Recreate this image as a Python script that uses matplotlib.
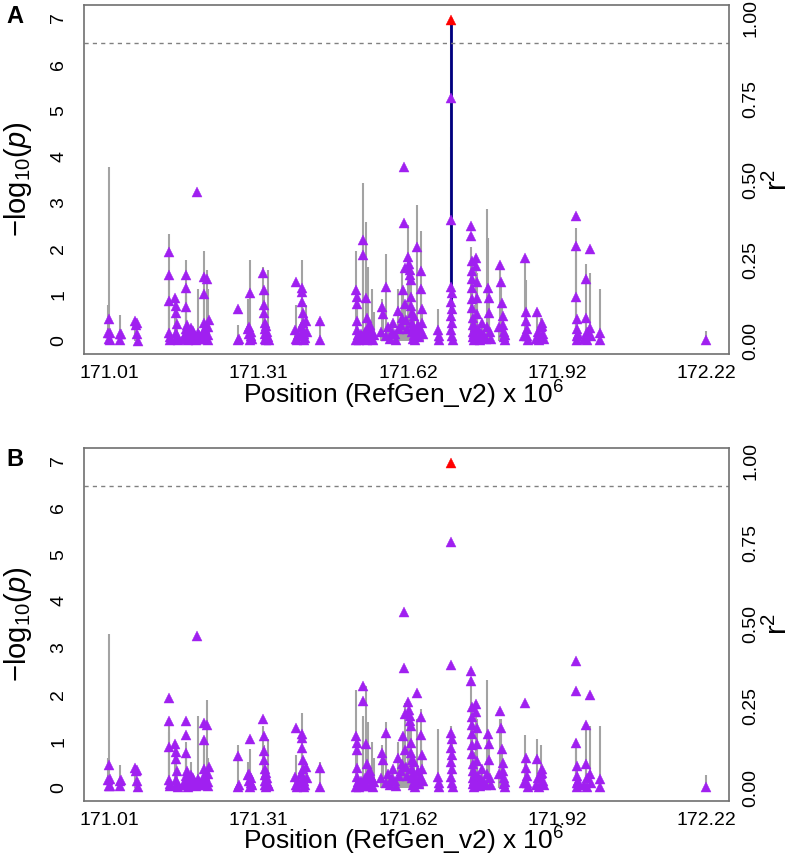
import numpy as np
import matplotlib.pyplot as plt

plt.rcParams['font.family'] = ['Liberation Sans', 'DejaVu Sans']
plt.rcParams['mathtext.fontset'] = 'custom'
plt.rcParams['mathtext.rm'] = 'Liberation Sans'
plt.rcParams['mathtext.it'] = 'Liberation Sans:italic'

# SNP positions (Mb), one line per cluster
pos = [
    171.008, 171.010, 171.010, 171.011, 171.012,
    171.031, 171.032, 171.033,
    171.062, 171.064, 171.066, 171.067, 171.068,
    171.130, 171.132, 171.132, 171.131, 171.133, 171.134, 171.144, 171.146, 171.146, 171.147, 171.145, 171.148, 171.147, 171.150,
    171.160, 171.163, 171.165, 171.166, 171.166, 171.167, 171.165, 171.168, 171.170, 171.172, 171.175, 171.178, 171.180, 171.183, 171.186, 171.188, 171.190, 171.192, 171.195,
    171.199, 171.201, 171.201, 171.202, 171.203, 171.204, 171.206, 171.208, 171.209, 171.210, 171.211, 171.212,
    171.270, 171.271, 171.272,
    171.292, 171.294, 171.296, 171.296, 171.297, 171.298, 171.300, 171.293,
    171.322, 171.324, 171.324, 171.324, 171.325, 171.325, 171.326, 171.326, 171.327, 171.328, 171.329, 171.330, 171.332, 171.333,
    171.386, 171.388, 171.389, 171.390, 171.392, 171.398, 171.400, 171.401, 171.401, 171.402, 171.402, 171.403, 171.403, 171.404, 171.405, 171.406, 171.409, 171.410,
    171.436, 171.437,
    171.509, 171.510, 171.511, 171.511, 171.512, 171.512, 171.513, 171.513, 171.515, 171.518, 171.520, 171.523, 171.523, 171.524, 171.526, 171.528, 171.531, 171.532, 171.533, 171.535, 171.537, 171.539, 171.541, 171.542, 171.544, 171.546,
    171.560, 171.563, 171.565, 171.571, 171.571, 171.575, 171.578, 171.582, 171.585, 171.588, 171.591, 171.594, 171.596, 171.600, 171.602, 171.604,
    171.606, 171.608, 171.610, 171.610, 171.612, 171.614, 171.616, 171.618, 171.620, 171.620, 171.622, 171.622, 171.622, 171.623, 171.623, 171.624,
    171.625, 171.626, 171.627, 171.628, 171.630, 171.632, 171.634, 171.636, 171.638, 171.640, 171.642, 171.642, 171.643, 171.644, 171.645,
    171.675, 171.677, 171.678,
    171.703, 171.703, 171.703, 171.702, 171.704, 171.703, 171.704, 171.702, 171.704, 171.703, 171.705, 171.706,
    171.742, 171.743, 171.744, 171.744, 171.744, 171.745, 171.745, 171.745, 171.746, 171.746, 171.747, 171.747, 171.748, 171.749, 171.750, 171.752, 171.753,
    171.754, 171.754, 171.755, 171.756, 171.758, 171.760, 171.763, 171.766, 171.770, 171.774, 171.776, 171.778, 171.779, 171.780, 171.782, 171.784,
    171.800, 171.802, 171.804, 171.806, 171.808, 171.808, 171.809, 171.810, 171.811, 171.812,
    171.850, 171.852, 171.854, 171.855, 171.856, 171.857, 171.858, 171.875, 171.877, 171.878, 171.880, 171.884, 171.886, 171.887, 171.888, 171.890,
    171.955, 171.956, 171.956, 171.957, 171.957, 171.958, 171.958, 171.959, 171.972, 171.975, 171.976, 171.977, 171.978, 171.983, 171.984, 171.985, 172.003, 172.004,
    172.218,
]

# -log10(p), same SNPs in both panels
logp = [
    0.17, 0.48, 0.04, 0.18, 0.03,
    0.15, 0.03, 0.16,
    0.43, 0.35, 0.38, 0.15, 0.01,
    1.93, 1.43, 0.87, 0.17, 0.03, 0.08, 0.93, 0.76, 0.61, 0.37, 0.17, 0.05, 0.10, 0.02,
    0.05, 0.12, 1.43, 1.14, 0.74, 0.35, 0.25, 0.20, 0.02, 0.15, 0.28, 0.05, 0.22, 0.10, 0.03, 3.24, 0.18, 0.12, 0.05,
    0.20, 1.39, 1.02, 0.40, 0.25, 0.05, 0.15, 1.35, 0.30, 0.12, 0.03, 0.45,
    0.69, 0.02, 0.05,
    0.27, 0.15, 1.04, 0.02, 0.10, 0.20, 0.05, 0.30,
    1.48, 1.10, 0.78, 0.60, 0.40, 0.27, 0.15, 0.05, 0.02, 0.32, 0.10, 0.20, 0.08, 0.03,
    0.23, 0.05, 1.27, 0.02, 0.12, 0.30, 1.16, 1.07, 0.85, 0.60, 0.40, 0.23, 0.10, 0.02, 0.15, 0.06, 0.44, 0.20,
    0.43, 0.02,
    0.02, 1.10, 0.95, 0.80, 0.43, 0.23, 0.05, 0.12, 0.02, 0.08, 0.15, 2.19, 1.86, 0.04, 0.10, 0.20, 0.93, 0.50, 0.03, 0.30, 0.18, 0.35, 0.07, 0.20, 0.02, 0.12,
    0.20, 0.74, 0.59, 1.17, 0.10, 0.30, 0.05, 0.20, 0.40, 0.15, 0.03, 0.64, 0.25, 0.35, 0.50, 1.10,
    3.77, 2.56, 1.59, 0.80, 0.45, 0.25, 1.83, 1.66, 1.54, 1.43, 1.32, 0.95, 0.75, 0.60, 0.40, 0.20,
    0.05, 0.30, 0.12, 0.55, 0.02, 0.18, 2.04, 0.35, 0.08, 0.25, 1.52, 1.13, 0.70, 0.40, 0.15,
    0.23, 0.02, 0.10,
    6.95, 5.27, 2.62, 1.17, 1.05, 0.85, 0.70, 0.55, 0.40, 0.23, 0.10, 0.02,
    2.50, 2.28, 1.74, 1.52, 1.34, 1.16, 0.91, 0.72, 0.50, 0.35, 0.20, 0.08, 0.02, 0.15, 0.30, 1.80, 1.62,
    1.27, 0.94, 0.58, 0.25, 0.10, 0.03, 0.18, 0.40, 0.12, 0.05, 0.30, 1.16, 0.94, 0.60, 0.20, 0.05,
    0.30, 1.65, 1.28, 0.83, 0.54, 0.35, 0.20, 0.08, 0.02, 0.12,
    0.10, 1.81, 0.63, 0.43, 0.25, 0.10, 0.02, 0.05, 0.62, 0.20, 0.02, 0.30, 0.40, 0.32, 0.15, 0.05,
    2.72, 2.07, 0.96, 0.47, 0.25, 0.10, 0.02, 0.15, 0.05, 1.34, 0.50, 0.20, 0.02, 1.99, 0.29, 0.10, 0.18, 0.02,
    0.02,
]

# r2 with the lead SNP (panel A)
r2_a = [
    0.11, 0.54, 0.02, 0.02, 0.01,
    0.08, 0.01, 0.02,
    0.06, 0.05, 0.03, 0.02, 0.01,
    0.33, 0.20, 0.13, 0.03, 0.01, 0.02, 0.14, 0.11, 0.09, 0.05, 0.03, 0.01, 0.02, 0.01,
    0.01, 0.02, 0.25, 0.17, 0.14, 0.06, 0.04, 0.03, 0.01, 0.02, 0.04, 0.01, 0.03, 0.02, 0.01, 0.02, 0.16, 0.02, 0.01,
    0.03, 0.28, 0.16, 0.06, 0.04, 0.01, 0.02, 0.22, 0.16, 0.03, 0.01, 0.07,
    0.05, 0.01, 0.01,
    0.13, 0.04, 0.25, 0.01, 0.02, 0.03, 0.01, 0.04,
    0.23, 0.16, 0.12, 0.09, 0.06, 0.04, 0.03, 0.01, 0.01, 0.05, 0.02, 0.03, 0.22, 0.01,
    0.03, 0.01, 0.11, 0.01, 0.02, 0.04, 0.25, 0.16, 0.13, 0.09, 0.06, 0.03, 0.02, 0.01, 0.02, 0.01, 0.11, 0.03,
    0.07, 0.01,
    0.01, 0.28, 0.14, 0.12, 0.06, 0.03, 0.01, 0.02, 0.01, 0.02, 0.03, 0.49, 0.30, 0.01, 0.02, 0.03, 0.37, 0.19, 0.01, 0.23, 0.05, 0.06, 0.02, 0.16, 0.01, 0.09,
    0.03, 0.13, 0.09, 0.27, 0.02, 0.05, 0.01, 0.03, 0.06, 0.03, 0.01, 0.16, 0.04, 0.05, 0.22, 0.16,
    0.02, 0.05, 0.08, 0.12, 0.07, 0.04, 0.36, 0.25, 0.22, 0.20, 0.19, 0.14, 0.11, 0.09, 0.06, 0.03,
    0.01, 0.05, 0.02, 0.08, 0.01, 0.03, 0.42, 0.05, 0.01, 0.04, 0.34, 0.16, 0.10, 0.06, 0.02,
    0.10, 0.01, 0.02,
    1.00, 0.60, 0.30, 0.17, 0.15, 0.12, 0.10, 0.08, 0.06, 0.03, 0.02, 0.01,
    0.07, 0.29, 0.25, 0.21, 0.19, 0.17, 0.13, 0.11, 0.07, 0.05, 0.03, 0.01, 0.01, 0.02, 0.11, 0.26, 0.23,
    0.21, 0.14, 0.08, 0.04, 0.02, 0.01, 0.03, 0.06, 0.02, 0.01, 0.41, 0.32, 0.17, 0.09, 0.03, 0.01,
    0.05, 0.24, 0.17, 0.12, 0.08, 0.05, 0.03, 0.01, 0.01, 0.02,
    0.02, 0.26, 0.19, 0.06, 0.04, 0.02, 0.01, 0.01, 0.10, 0.03, 0.01, 0.07, 0.06, 0.05, 0.02, 0.01,
    0.06, 0.35, 0.28, 0.07, 0.04, 0.02, 0.01, 0.02, 0.01, 0.24, 0.07, 0.03, 0.01, 0.21, 0.04, 0.02, 0.16, 0.01,
    0.03,
]

# r2 after conditioning (panel B)
r2_b = [
    0.09, 0.47, 0.02, 0.02, 0.01,
    0.07, 0.01, 0.02,
    0.04, 0.04, 0.03, 0.02, 0.01,
    0.19, 0.17, 0.12, 0.03, 0.01, 0.02, 0.12, 0.10, 0.08, 0.05, 0.03, 0.01, 0.02, 0.01,
    0.01, 0.02, 0.14, 0.12, 0.10, 0.06, 0.04, 0.03, 0.01, 0.03, 0.08, 0.01, 0.03, 0.02, 0.01, 0.02, 0.22, 0.02, 0.01,
    0.03, 0.14, 0.12, 0.06, 0.04, 0.01, 0.02, 0.27, 0.09, 0.03, 0.01, 0.07,
    0.13, 0.01, 0.01,
    0.08, 0.04, 0.12, 0.01, 0.02, 0.03, 0.01, 0.04,
    0.19, 0.13, 0.11, 0.08, 0.06, 0.04, 0.03, 0.01, 0.01, 0.05, 0.02, 0.03, 0.15, 0.01,
    0.03, 0.01, 0.10, 0.01, 0.02, 0.04, 0.23, 0.16, 0.13, 0.09, 0.06, 0.03, 0.02, 0.01, 0.02, 0.01, 0.08, 0.03,
    0.08, 0.01,
    0.01, 0.30, 0.14, 0.12, 0.06, 0.03, 0.01, 0.02, 0.01, 0.02, 0.03, 0.21, 0.22, 0.01, 0.02, 0.03, 0.31, 0.18, 0.01, 0.20, 0.05, 0.06, 0.02, 0.14, 0.01, 0.09,
    0.03, 0.13, 0.09, 0.20, 0.02, 0.05, 0.01, 0.03, 0.06, 0.03, 0.01, 0.14, 0.04, 0.05, 0.08, 0.16,
    0.02, 0.05, 0.26, 0.12, 0.07, 0.04, 0.20, 0.22, 0.21, 0.20, 0.19, 0.14, 0.11, 0.09, 0.06, 0.03,
    0.01, 0.05, 0.02, 0.08, 0.01, 0.03, 0.21, 0.05, 0.01, 0.04, 0.24, 0.16, 0.10, 0.06, 0.02,
    0.18, 0.01, 0.02,
    0.05, 0.10, 0.19, 0.17, 0.15, 0.12, 0.10, 0.08, 0.06, 0.03, 0.02, 0.01,
    0.07, 0.34, 0.25, 0.21, 0.19, 0.17, 0.13, 0.11, 0.07, 0.05, 0.03, 0.01, 0.01, 0.02, 0.11, 0.26, 0.23,
    0.21, 0.14, 0.08, 0.04, 0.02, 0.01, 0.03, 0.06, 0.02, 0.01, 0.33, 0.17, 0.17, 0.09, 0.03, 0.01,
    0.05, 0.21, 0.21, 0.12, 0.08, 0.05, 0.03, 0.01, 0.01, 0.02,
    0.02, 0.16, 0.09, 0.06, 0.04, 0.02, 0.01, 0.01, 0.15, 0.03, 0.01, 0.13, 0.06, 0.05, 0.02, 0.01,
    0.06, 0.15, 0.14, 0.07, 0.04, 0.02, 0.01, 0.02, 0.01, 0.18, 0.07, 0.03, 0.01, 0.19, 0.04, 0.02, 0.19, 0.01,
    0.04,
]

threshold = 6.47
xtick_pos = [171.01, 171.3125, 171.615, 171.9175, 172.22]
xtick_labels = ['171.01', '171.31', '171.62', '171.92', '172.22']
r2_ticks = [0.0, 0.25, 0.5, 0.75, 1.0]
r2_labels = ['0.00', '0.25', '0.50', '0.75', '1.00']

assert len(pos) == len(logp) == len(r2_a) == len(r2_b)
pos = np.array(pos)
logp = np.array(logp)
lead = int(np.argmax(logp))

purple = '#A020F0'
grey = '#A3A3A3'
frame = '#707070'

fig = plt.figure(figsize=(7.97, 8.57), dpi=100)
panels = [
    ('A', np.array(r2_a), True, [0.1055, 0.587, 0.809, 0.407], -0.141),
    ('B', np.array(r2_b), False, [0.1055, 0.0655, 0.809, 0.412], -0.139),
]

for letter, r2, highlight, rect, xlab_y in panels:
    ax = fig.add_axes(rect)
    ax2 = ax.twinx()
    ax.set_zorder(2)
    ax.patch.set_visible(False)

    # r2 bars on the right axis
    ax2.vlines(pos, 0, r2, color=grey, lw=1.5)
    if highlight:
        ax2.vlines(pos[lead], 0, r2[lead], color='#000080', lw=2)

    # -log10(p) triangles
    others = np.arange(len(pos)) != lead
    ax.plot(pos[others], logp[others], '^', color=purple, ms=6.5, mec=purple, mew=0.3)
    ax.plot(pos[lead], logp[lead], '^', color='red', ms=6.5, mec='red', mew=0.3)
    ax.axhline(threshold, color='#808080', lw=1, ls=(0, (3, 3)))

    ax.set_xlim(170.959, 172.265)
    ax.set_ylim(-0.28, 7.28)
    ax2.set_ylim(-0.04, 1.04)

    ax.set_xticks(xtick_pos)
    ax.set_xticklabels(xtick_labels)
    ax.set_yticks(range(8))
    ax2.set_yticks(r2_ticks)
    ax2.set_yticklabels(r2_labels)

    ax.tick_params(axis='x', length=0, pad=8, labelsize=14)
    ax.tick_params(axis='y', length=0, pad=12, labelsize=14)
    ax2.tick_params(axis='y', length=0, pad=10, labelsize=14)
    for lab in ax.get_yticklabels():
        lab.set_rotation(90)
        lab.set_va('center')
    for lab in ax2.get_yticklabels():
        lab.set_rotation(90)
        lab.set_va('center')

    for sp in ax.spines.values():
        sp.set_color(frame)
        sp.set_linewidth(1.2)
    for sp in ax2.spines.values():
        sp.set_visible(False)

    ax.set_xlabel(r'Position (RefGen_v2) x 10$^6$', fontsize=19, va='baseline')
    ax.xaxis.set_label_coords(0.495, xlab_y)
    ax.set_ylabel(r'$-$log$_{10}$($\it{p}$)', fontsize=21, labelpad=12)
    ax2.set_ylabel(r'r$^2$', fontsize=21, labelpad=3)

    ax.text(-0.12, 1.0, letter, transform=ax.transAxes, fontsize=17,
            fontweight='bold', ha='left', va='top')

fig.savefig('out.png', dpi=100)
